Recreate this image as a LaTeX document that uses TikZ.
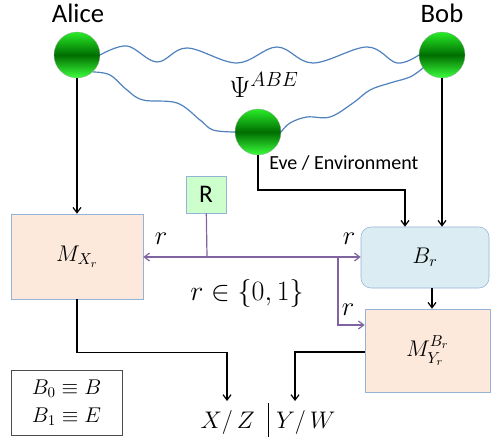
\RequirePackage{fix-cm}
\documentclass[tikz,border=0pt]{standalone}
\usepackage{amsmath,amssymb}
\usepackage{xcolor}
\usepackage{fontspec}
\newfontfamily\calibri{Carlito}
\usepackage{tikz}
\usetikzlibrary{calc,shapes,arrows.meta}
\usetikzlibrary{positioning}

\definecolor{wavecol}{RGB}{79,129,189}
\definecolor{purp}{RGB}{128,100,162}
\definecolor{boxline}{RGB}{149,179,215}
\definecolor{peach}{RGB}{252,233,219}
\definecolor{skyfill}{RGB}{219,236,243}
\definecolor{mint}{RGB}{204,255,204}

\tikzset{
  ball/.style={circle,draw=gray!70,very thin,minimum size=34.5pt,inner sep=0pt,
    top color={rgb,255:red,40;green,235;blue,40},bottom color={rgb,255:red,60;green,255;blue,60},
    middle color={rgb,255:red,0;green,110;blue,0}},
  mbox/.style={draw=boxline,fill=peach,inner sep=0pt},
  arr/.style={-{Straight Barb[length=4pt,width=6pt]},line width=0.9pt,black},
  parr/.style={-{Straight Barb[length=4pt,width=6pt]},line width=0.9pt,purp},
  wave/.style={wavecol,line width=0.9pt}
}

\begin{document}
\begin{tikzpicture}[x=0.75pt,y=0.75pt,yscale=-1,xscale=1]
  \useasboundingbox (0,0) rectangle (491,441);

  % Parties
  \node [ball] (alice) at (77,55) {};
  \node [ball] (bob) at (442,55) {};
  \node [ball] (eve) at (258,132) {};

  % Text Node
  \node (alicelbl) at (78,13) {\calibri\fontsize{20}{24}\selectfont Alice};
  % Text Node
  \node (boblbl) at (442,13) {\calibri\fontsize{20}{24}\selectfont Bob};
  % Text Node
  \node [anchor=west,inner sep=0.75pt] (evelbl) at (268,163) {\calibri\fontsize{15}{18}\selectfont Eve / Environment};
  % Text Node
  \node (psi) at (264,85) {\fontsize{22}{26}\selectfont $\Psi^{ABE}$};

  % Entangled state
  \draw [wave] plot [smooth,tension=0.6] coordinates {(alice.east) (127,46) (157,62) (187,48) (237,63) (277,47) (313,63) (367,47) (397,63) (bob.west)};
  \draw [wave] plot [smooth,tension=0.6] coordinates {(93,72) (110,75) (127,90) (143,100) (177,103) (200,120) (213,130) (eve.west)};
  \draw [wave] plot [smooth,tension=0.6] coordinates {(eve.east) (290,123) (307,117) (330,117) (353,103) (370,90) (390,83) (410,77) (423,68)};

  % Boxes
  \node [mbox,minimum width=99pt,minimum height=63.75pt] (mx) at (77,256.5) {\fontsize{17}{20}\selectfont $M_{X_r}$};
  \node [draw=boxline,fill=skyfill,rounded corners=7.5pt,minimum width=96pt,minimum height=45.75pt,inner sep=0pt] (br) at (425,257.5) {\fontsize{17}{20}\selectfont $B_r$};
  \node [mbox,minimum width=93.75pt,minimum height=62.25pt] (my) at (427.5,350.5) {\fontsize{17}{20}\selectfont $M_{Y_r}^{B_r}$};
  \node [draw=boxline,fill=mint,minimum width=30pt,minimum height=27.75pt,inner sep=0pt] (rnd) at (206,194.5) {\calibri\fontsize{19}{22}\selectfont R};
  \node [draw=black!70,minimum width=83.25pt,minimum height=48.75pt,inner sep=0pt,align=center,font=\fontsize{16}{21}\selectfont] (legend) at (66.5,402.5) {$B_0\equiv B$\\$B_1\equiv E$};

  % Outcomes
  \node (out) at (268,420) {\fontsize{18}{22}\selectfont $X/\,Z\;\;\rule[-7pt]{1pt}{26pt}\;Y/\,W$};
  \coordinate (outl) at (227,401);
  \coordinate (outr) at (295,401);

  % Measurement inputs
  \draw [arr] (alice) -- (mx);
  \draw [arr] (bob.south) -- (bob.south |- br.north);
  \coordinate (evecorner) at (405,190);
  \draw [arr] (eve) |- (evecorner) -- (evecorner |- br.north);
  \draw [arr] (br.south -| 432,0) -- (my.north -| 432,0);
  \draw [arr] (mx.south) -- ++(0,53) -| (outl);
  \draw [arr] (my.west |- 0,352) -| (outr);

  % Random bit
  \coordinate (rjoin) at (207,257);
  \coordinate (rsplit) at (338,257);
  \coordinate (rbranch) at (338,325);
  \draw [purp,line width=0.9pt] (rnd) -- (rjoin);
  \draw [parr] (rjoin) -- (mx.east |- rjoin);
  \draw [parr] (rjoin) -- (br.west |- rjoin);
  \draw [parr] (rsplit) -- (rbranch) -- (my.west |- rbranch);

  % Text Node
  \node (rleft) at (161,239) {\fontsize{20}{24}\selectfont $r$};
  % Text Node
  \node (rright) at (349,239) {\fontsize{20}{24}\selectfont $r$};
  % Text Node
  \node (rdown) at (348,310) {\fontsize{20}{24}\selectfont $r$};
  % Text Node
  \node (rset) at (247,293) {\fontsize{21}{25}\selectfont $r\in\{0,1\}$};
\end{tikzpicture}
\end{document}
